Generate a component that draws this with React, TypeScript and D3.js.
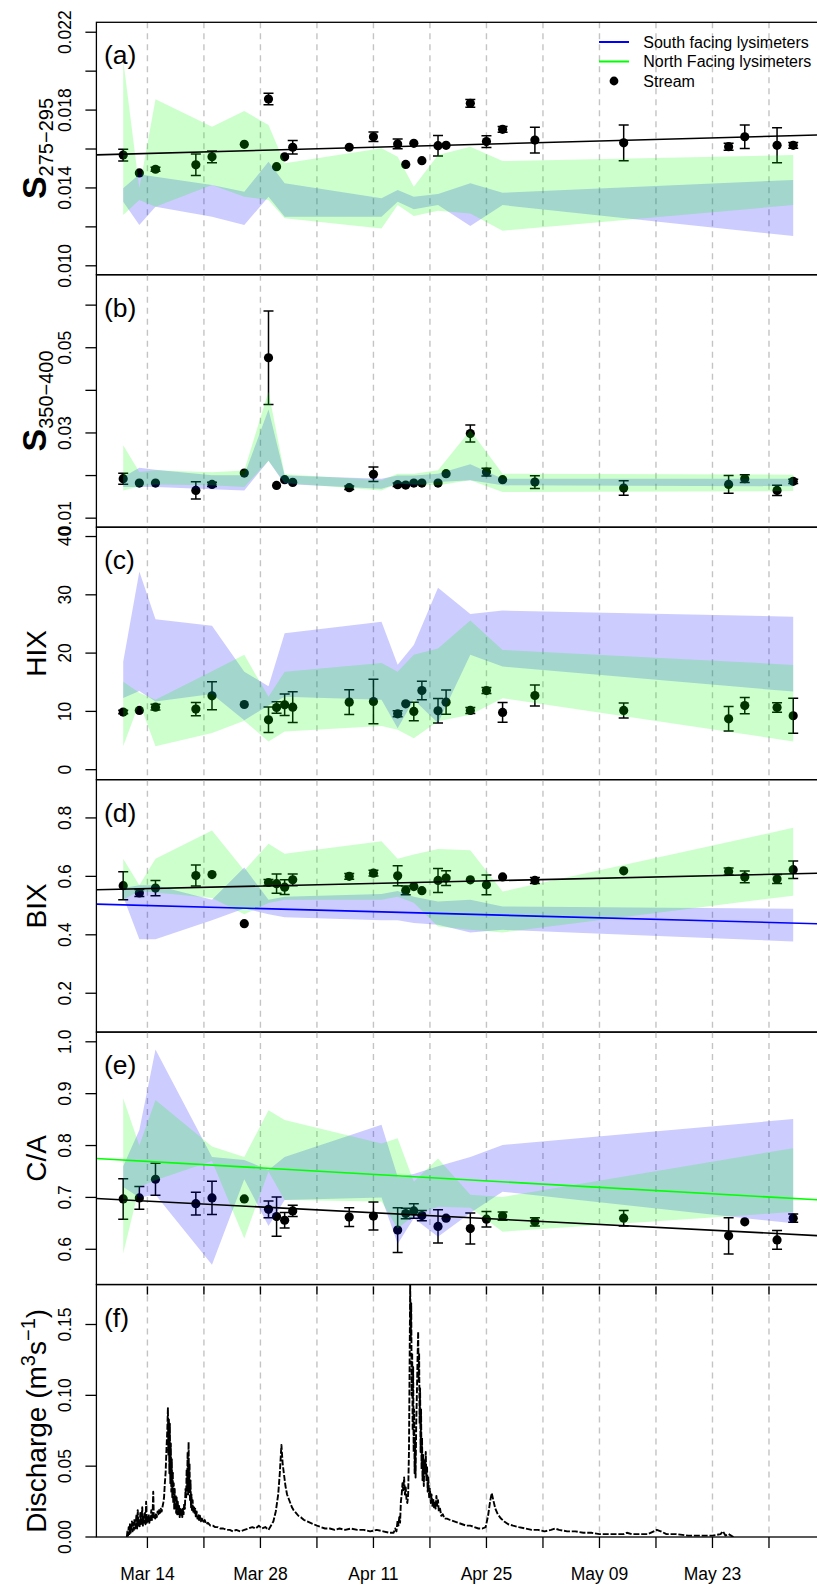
import React from "react";
import * as d3 from "d3";

// ---------- sampling dates ----------
const sampleDates = [
  "2013-03-11", "2013-03-13", "2013-03-15", "2013-03-20", "2013-03-22", "2013-03-26",
  "2013-03-29", "2013-03-30", "2013-03-31", "2013-04-01", "2013-04-08", "2013-04-11",
  "2013-04-14", "2013-04-15", "2013-04-16", "2013-04-17", "2013-04-19", "2013-04-20",
  "2013-04-23", "2013-04-25", "2013-04-27", "2013-05-01", "2013-05-12", "2013-05-25",
  "2013-05-27", "2013-05-31", "2013-06-02",
];
const lysimeterDates = [
  "2013-03-11", "2013-03-13", "2013-03-15", "2013-03-22", "2013-03-26", "2013-03-29",
  "2013-03-31", "2013-04-12", "2013-04-14", "2013-04-16", "2013-04-19", "2013-04-23",
  "2013-04-27", "2013-06-02",
];
const weekTicks = [
  "2013-03-14", "2013-03-21", "2013-03-28", "2013-04-04", "2013-04-11", "2013-04-18",
  "2013-04-25", "2013-05-02", "2013-05-09", "2013-05-16", "2013-05-23", "2013-05-30",
];
const weekLabels = ["Mar 14", "", "Mar 28", "", "Apr 11", "", "Apr 25", "", "May 09", "", "May 23", ""];
const trendOrigin = "2013-03-01";

// ---------- (a) S275-295 ----------
const aStream = [0.01569, 0.01477, 0.01496, 0.01519, 0.0156, 0.01624, 0.01857, 0.01509, 0.0156, 0.01609, 0.01609, 0.01663, 0.01626, 0.01521, 0.01629, 0.0154, 0.01617, 0.01619, 0.01835, 0.01638, 0.01701, 0.01646, 0.01632, 0.01612, 0.01663, 0.01619, 0.01619];
const aErr = [0.0003, 0, 0.0001, 0.00055, 0.0003, 0, 0.0003, 0, 0, 0.00035, 0, 0.00025, 0.00025, 0, 0, 0, 0.00053, 0, 0.0002, 0.0003, 0.00015, 0.00066, 0.00092, 0.00018, 0.0006, 0.0009, 0.00015];
const aSouthHi = [0.01398, 0.0147, 0.01458, 0.01415, 0.0138, 0.01535, 0.01424, 0.01347, 0.01389, 0.01355, 0.01369, 0.01424, 0.01375, 0.01441];
const aSouthLo = [0.01329, 0.01209, 0.01303, 0.01252, 0.01209, 0.01355, 0.01252, 0.01252, 0.01329, 0.0129, 0.01312, 0.01204, 0.01312, 0.01153];
const aNorthHi = [0.02058, 0.01398, 0.01856, 0.01715, 0.01795, 0.01723, 0.01527, 0.01604, 0.0156, 0.01406, 0.01569, 0.01612, 0.01538, 0.01569];
const aNorthLo = [0.01261, 0.01338, 0.01303, 0.01415, 0.01355, 0.01338, 0.01244, 0.01192, 0.01312, 0.01256, 0.01283, 0.01269, 0.0118, 0.01312];
const aTicks = [0.01, 0.012, 0.014, 0.016, 0.018, 0.02, 0.022];
const aTickLabels = ["0.010", "", "0.014", "", "0.018", "", "0.022"];
const aLimits = [0.00954, 0.02251];
const aStreamTrend = [0.015624, 0.0000114]; // intercept, slope per day

// ---------- (b) S350-400 ----------
const bStream = [0.01927, 0.01824, 0.01824, 0.01652, 0.01793, 0.02059, 0.04765, 0.01769, 0.01904, 0.0184, 0.01715, 0.02028, 0.01786, 0.01776, 0.01824, 0.01824, 0.01824, 0.02045, 0.02986, 0.02082, 0.01904, 0.01847, 0.01706, 0.01793, 0.01927, 0.01652, 0.01864];
const bErr = [0.0013, 0, 0, 0.002, 0.0005, 0, 0.011, 0, 0, 0, 0.0004, 0.0017, 0.0004, 0, 0, 0, 0, 0, 0.002, 0.0009, 0, 0.0015, 0.0017, 0.0021, 0.0009, 0.0012, 0.0005];
const bSouthHi = [0.01965, 0.02186, 0.02139, 0.0201, 0.02005, 0.0355, 0.02, 0.01927, 0.02, 0.02, 0.0204, 0.02264, 0.01927, 0.01927];
const bSouthLo = [0.0173, 0.0173, 0.0173, 0.0168, 0.0165, 0.0235, 0.018, 0.01692, 0.018, 0.0177, 0.01847, 0.01887, 0.0177, 0.0175];
const bNorthHi = [0.0271, 0.02082, 0.02122, 0.0208, 0.0212, 0.0397, 0.0203, 0.01887, 0.02045, 0.0204, 0.02122, 0.03064, 0.02045, 0.0202];
const bNorthLo = [0.0165, 0.01746, 0.01793, 0.0177, 0.0173, 0.0235, 0.01824, 0.0165, 0.01816, 0.0179, 0.0177, 0.01887, 0.01612, 0.01635];
const bTicks = [0.01, 0.02, 0.03, 0.04, 0.05, 0.06];
const bTickLabels = ["0.01", "", "0.03", "", "0.05", ""];
const bLimits = [0.00788, 0.06713];

// ---------- (c) HIX ----------
const cStream = [9.88, 10.16, 10.73, 10.39, 12.67, 11.18, 8.56, 10.67, 11.13, 10.73, 11.59, 11.7, 9.59, 11.3, 9.99, 13.58, 10.1, 11.59, 10.16, 13.58, 9.82, 12.73, 10.16, 8.73, 11.0, 10.67, 9.25];
const cErr = [0.3, 0, 0.5, 1.14, 2.4, 0, 2.2, 1.0, 1.85, 2.65, 2.14, 3.8, 0.5, 0, 1.6, 1.6, 2.1, 2.1, 0.5, 0.5, 1.7, 1.8, 1.3, 2.1, 1.4, 0.8, 3.0];
const cSouthHi = [18.5, 34.0, 25.8, 24.7, 16.8, 14.3, 23.4, 25.4, 18.0, 21.4, 31.2, 26.7, 27.3, 26.25];
const cSouthLo = [12.3, 13.5, 11.7, 13.0, 8.5, 11.0, 12.5, 12.0, 7.1, 12.0, 8.0, 19.7, 17.7, 13.4];
const cNorthHi = [15.1, 13.2, 12.0, 16.9, 19.7, 12.5, 16.8, 18.3, 16.8, 19.7, 20.8, 25.6, 20.55, 17.98];
const cNorthLo = [4.0, 11.5, 4.0, 6.3, 8.4, 4.85, 6.56, 7.5, 6.85, 5.4, 8.3, 9.42, 12.27, 4.85];
const cTicks = [0, 10, 20, 30, 40];
const cTickLabels = ["0", "10", "20", "30", "40"];
const cLimits = [-1.71, 41.6];

// ---------- (d) BIX ----------
const dStream = [0.568, 0.543, 0.56, 0.603, 0.606, 0.438, 0.579, 0.575, 0.563, 0.588, 0.6, 0.611, 0.602, 0.552, 0.565, 0.551, 0.586, 0.594, 0.588, 0.571, 0.598, 0.586, 0.619, 0.617, 0.598, 0.591, 0.623];
const dErr = [0.048, 0.012, 0.026, 0.036, 0, 0, 0.01, 0.033, 0.025, 0.02, 0.01, 0.01, 0.034, 0.015, 0, 0, 0.041, 0.025, 0, 0.034, 0, 0.01, 0, 0.012, 0.02, 0.015, 0.03];
const dSouthHi = [0.56, 0.57, 0.57, 0.52, 0.63, 0.52, 0.53, 0.54, 0.55, 0.53, 0.514, 0.52, 0.497, 0.489];
const dSouthLo = [0.53, 0.385, 0.385, 0.45, 0.49, 0.47, 0.46, 0.45, 0.45, 0.44, 0.434, 0.408, 0.417, 0.377];
const dNorthHi = [0.66, 0.57, 0.66, 0.757, 0.62, 0.712, 0.677, 0.72, 0.66, 0.675, 0.694, 0.689, 0.548, 0.766];
const dNorthLo = [0.52, 0.55, 0.545, 0.526, 0.47, 0.509, 0.52, 0.52, 0.53, 0.51, 0.428, 0.417, 0.408, 0.534];
const dTicks = [0.2, 0.4, 0.6, 0.8];
const dTickLabels = ["0.2", "0.4", "0.6", "0.8"];
const dLimits = [0.067, 0.931];
const dStreamTrend = [0.54975, 0.000636];
const dSouthTrend = [0.51002, -0.000752];

// ---------- (e) C/A ----------
const eStream = [0.697, 0.699, 0.735, 0.688, 0.699, 0.697, 0.677, 0.663, 0.656, 0.674, 0.662, 0.664, 0.637, 0.669, 0.674, 0.665, 0.644, 0.66, 0.64, 0.658, 0.664, 0.653, 0.66, 0.626, 0.653, 0.618, 0.66];
const eErr = [0.039, 0.022, 0.031, 0.022, 0.032, 0, 0.016, 0.038, 0.015, 0.011, 0.018, 0.027, 0.043, 0.01, 0.014, 0.01, 0.032, 0, 0.03, 0.015, 0.008, 0.008, 0.015, 0.035, 0, 0.018, 0.008];
const eSouthHi = [0.76, 0.83, 0.985, 0.778, 0.772, 0.753, 0.778, 0.84, 0.74, 0.745, 0.76, 0.778, 0.801, 0.851];
const eSouthLo = [0.72, 0.7, 0.705, 0.57, 0.735, 0.645, 0.695, 0.7, 0.61, 0.66, 0.624, 0.67, 0.711, 0.65];
const eNorthHi = [0.891, 0.8, 0.888, 0.798, 0.778, 0.868, 0.849, 0.804, 0.814, 0.73, 0.775, 0.705, 0.701, 0.795];
const eNorthLo = [0.592, 0.72, 0.733, 0.77, 0.621, 0.75, 0.695, 0.692, 0.64, 0.665, 0.682, 0.68, 0.634, 0.672];
const eTicks = [0.6, 0.7, 0.8, 0.9, 1.0];
const eTickLabels = ["0.6", "0.7", "0.8", "0.9", "1.0"];
const eLimits = [0.532, 1.0187];
const eStreamTrend = [0.70337, -0.000803];
const eNorthTrend = [0.78096, -0.000892];

// ---------- (f) discharge: [days since Mar 1, m3/s] ----------
const dischargeSeries: [number, number][] = [
  [10.45, 0.0], [10.52, 0.004], [10.6, 0.001], [10.68, 0.007], [10.76, 0.002], [10.84, 0.009], [10.92, 0.003],
  [11.0, 0.006], [11.08, 0.011], [11.16, 0.004], [11.24, 0.01], [11.32, 0.005], [11.4, 0.013], [11.48, 0.006],
  [11.56, 0.009], [11.64, 0.016], [11.72, 0.006], [11.8, 0.019], [11.88, 0.008], [11.96, 0.012], [12.04, 0.007],
  [12.12, 0.017], [12.2, 0.009], [12.28, 0.013], [12.36, 0.021], [12.44, 0.008], [12.52, 0.014], [12.6, 0.01],
  [12.68, 0.018], [12.76, 0.009], [12.84, 0.025], [12.92, 0.01], [13.0, 0.013], [13.08, 0.011], [13.16, 0.016],
  [13.24, 0.01], [13.32, 0.014], [13.4, 0.012], [13.48, 0.019], [13.56, 0.012], [13.64, 0.015], [13.72, 0.032],
  [13.8, 0.013], [13.88, 0.015], [13.96, 0.013], [14.06, 0.016], [14.16, 0.014], [14.26, 0.018], [14.36, 0.016],
  [14.46, 0.019], [14.56, 0.017], [14.66, 0.02], [14.76, 0.018], [14.86, 0.021], [14.96, 0.024], [15.06, 0.028],
  [15.16, 0.038], [15.26, 0.046], [15.36, 0.062], [15.46, 0.075], [15.54, 0.091], [15.6, 0.058], [15.66, 0.083],
  [15.72, 0.045], [15.78, 0.08], [15.84, 0.038], [15.9, 0.066], [15.96, 0.032], [16.02, 0.055], [16.08, 0.028],
  [16.14, 0.046], [16.2, 0.024], [16.26, 0.038], [16.32, 0.02], [16.38, 0.034], [16.44, 0.019], [16.5, 0.03],
  [16.56, 0.017], [16.62, 0.028], [16.68, 0.016], [16.76, 0.025], [16.84, 0.015], [16.92, 0.022], [17.0, 0.014],
  [17.08, 0.021], [17.16, 0.015], [17.24, 0.019], [17.32, 0.014], [17.4, 0.02], [17.48, 0.016], [17.56, 0.024],
  [17.64, 0.02], [17.72, 0.034], [17.8, 0.028], [17.86, 0.048], [17.92, 0.035], [17.98, 0.06], [18.04, 0.03],
  [18.1, 0.067], [18.16, 0.032], [18.22, 0.052], [18.28, 0.025], [18.34, 0.04], [18.4, 0.021], [18.46, 0.03],
  [18.52, 0.018], [18.6, 0.026], [18.68, 0.017], [18.76, 0.022], [18.84, 0.016], [18.92, 0.02], [19.0, 0.014],
  [19.1, 0.018], [19.2, 0.013], [19.3, 0.016], [19.4, 0.012], [19.5, 0.015], [19.6, 0.011], [19.75, 0.013],
  [19.9, 0.01], [20.1, 0.012], [20.3, 0.009], [20.5, 0.01], [20.8, 0.008], [21.1, 0.008], [21.4, 0.007],
  [21.7, 0.007], [22.0, 0.006], [22.4, 0.006], [22.8, 0.005], [23.2, 0.005], [23.6, 0.004], [24.0, 0.005],
  [24.5, 0.004], [25.0, 0.005], [25.5, 0.006], [26.0, 0.007], [26.4, 0.006], [26.8, 0.008], [27.2, 0.006],
  [27.6, 0.007], [28.0, 0.005], [28.3, 0.008], [28.6, 0.011], [28.9, 0.018], [29.2, 0.03], [29.4, 0.045],
  [29.6, 0.065], [29.75, 0.052], [29.9, 0.045], [30.1, 0.036], [30.3, 0.03], [30.5, 0.027], [30.7, 0.024],
  [30.9, 0.021], [31.1, 0.019], [31.4, 0.017], [31.7, 0.015], [32.0, 0.014], [32.4, 0.012], [32.8, 0.011],
  [33.2, 0.01], [33.6, 0.009], [34.0, 0.008], [34.5, 0.007], [35.0, 0.006], [35.6, 0.006], [36.2, 0.005],
  [36.8, 0.006], [37.5, 0.005], [38.2, 0.006], [39.0, 0.005], [39.8, 0.005], [40.6, 0.004], [41.4, 0.005],
  [42.2, 0.004], [43.0, 0.003], [43.5, 0.003], [43.7, 0.006], [43.85, 0.004], [44.0, 0.012], [44.1, 0.008],
  [44.2, 0.014], [44.3, 0.01], [44.4, 0.025], [44.5, 0.03], [44.6, 0.038], [44.7, 0.033], [44.8, 0.042],
  [44.9, 0.03], [45.0, 0.035], [45.1, 0.026], [45.2, 0.024], [45.3, 0.03], [45.4, 0.06], [45.48, 0.12],
  [45.55, 0.178], [45.62, 0.14], [45.68, 0.165], [45.74, 0.1], [45.8, 0.13], [45.86, 0.075], [45.92, 0.12],
  [45.98, 0.06], [46.04, 0.09], [46.1, 0.045], [46.16, 0.07], [46.22, 0.042], [46.3, 0.08], [46.38, 0.1],
  [46.46, 0.125], [46.54, 0.145], [46.6, 0.11], [46.66, 0.13], [46.72, 0.08], [46.78, 0.105], [46.84, 0.06],
  [46.9, 0.09], [46.96, 0.048], [47.02, 0.07], [47.08, 0.04], [47.16, 0.058], [47.24, 0.036], [47.32, 0.055],
  [47.4, 0.045], [47.48, 0.06], [47.56, 0.04], [47.64, 0.05], [47.72, 0.032], [47.8, 0.042], [47.9, 0.028],
  [48.0, 0.034], [48.1, 0.024], [48.2, 0.03], [48.3, 0.022], [48.4, 0.027], [48.5, 0.021], [48.6, 0.025],
  [48.7, 0.02], [48.8, 0.029], [48.9, 0.022], [49.0, 0.026], [49.1, 0.018], [49.25, 0.02], [49.4, 0.015],
  [49.6, 0.016], [49.8, 0.013], [50.1, 0.013], [50.5, 0.012], [51.0, 0.011], [51.5, 0.01], [52.0, 0.009],
  [52.5, 0.008], [53.0, 0.008], [53.5, 0.007], [54.0, 0.006], [54.5, 0.006], [54.9, 0.007], [55.2, 0.015],
  [55.45, 0.025], [55.65, 0.031], [55.85, 0.026], [56.1, 0.02], [56.4, 0.016], [56.8, 0.013], [57.2, 0.011],
  [57.7, 0.009], [58.3, 0.008], [59.0, 0.007], [59.8, 0.006], [60.6, 0.005], [61.4, 0.005], [62.2, 0.004],
  [63.0, 0.005], [63.5, 0.006], [64.0, 0.005], [65.0, 0.004], [66.0, 0.004], [67.0, 0.003], [68.0, 0.003],
  [69.0, 0.002], [70.0, 0.002], [71.0, 0.002], [72.0, 0.002], [72.4, 0.003], [73.0, 0.002], [74.0, 0.002],
  [75.0, 0.002], [76.1, 0.005], [76.6, 0.004], [77.3, 0.002], [78.5, 0.002], [80.0, 0.001], [81.5, 0.001],
  [83.0, 0.001], [84.0, 0.002], [84.3, 0.004], [84.6, 0.001], [85.0, 0.002], [85.6, 0.0],
];
const fTicks = [0, 0.05, 0.1, 0.15];
const fTickLabels = ["0.00", "0.05", "0.10", "0.15"];
const fLimits = [0, 0.1782];

// ---------- layout ----------
const W = 817;
const H = 1589;
const LEFT = 96.4;
const RIGHT = 820;
const TOP0 = 22.3;
const PH = 252.45;
const FONT = "'Liberation Sans', Arial, Helvetica, sans-serif";
const DAY = 86400000;

const toDate = d3.utcParse("%Y-%m-%d");
const sDates = sampleDates.map((d) => toDate(d) as Date);
const lDates = lysimeterDates.map((d) => toDate(d) as Date);
const gDates = weekTicks.map((d) => toDate(d) as Date);
const origin = toDate(trendOrigin) as Date;
const [first, last] = d3.extent(sDates) as [Date, Date];
const pad = (+last - +first) * 0.04;
const x = d3
  .scaleUtc()
  .domain([new Date(+first - pad), new Date(+last + pad)])
  .range([LEFT, RIGHT]);
const dayOf = (d: Date) => (+d - +origin) / DAY;

type PanelSpec = {
  letter: string;
  limits: number[];
  ticks: number[];
  tickLabels: string[];
  stream: number[];
  err: number[];
  southHi: number[];
  southLo: number[];
  northHi: number[];
  northLo: number[];
  trends: { coef: number[]; color: string }[];
  title: React.ReactNode;
};

const sTitle = (sub: string) => (
  <>
    <tspan fontWeight="bold" fontSize={34}>S</tspan>
    <tspan fontSize={20} dy={7}>{sub}</tspan>
  </>
);

const panels: PanelSpec[] = [
  { letter: "(a)", limits: aLimits, ticks: aTicks, tickLabels: aTickLabels, stream: aStream, err: aErr,
    southHi: aSouthHi, southLo: aSouthLo, northHi: aNorthHi, northLo: aNorthLo,
    trends: [{ coef: aStreamTrend, color: "#000000" }], title: sTitle("275\u2212295") },
  { letter: "(b)", limits: bLimits, ticks: bTicks, tickLabels: bTickLabels, stream: bStream, err: bErr,
    southHi: bSouthHi, southLo: bSouthLo, northHi: bNorthHi, northLo: bNorthLo,
    trends: [], title: sTitle("350\u2212400") },
  { letter: "(c)", limits: cLimits, ticks: cTicks, tickLabels: cTickLabels, stream: cStream, err: cErr,
    southHi: cSouthHi, southLo: cSouthLo, northHi: cNorthHi, northLo: cNorthLo,
    trends: [], title: "HIX" },
  { letter: "(d)", limits: dLimits, ticks: dTicks, tickLabels: dTickLabels, stream: dStream, err: dErr,
    southHi: dSouthHi, southLo: dSouthLo, northHi: dNorthHi, northLo: dNorthLo,
    trends: [{ coef: dStreamTrend, color: "#000000" }, { coef: dSouthTrend, color: "#0000ff" }], title: "BIX" },
  { letter: "(e)", limits: eLimits, ticks: eTicks, tickLabels: eTickLabels, stream: eStream, err: eErr,
    southHi: eSouthHi, southLo: eSouthLo, northHi: eNorthHi, northLo: eNorthLo,
    trends: [{ coef: eStreamTrend, color: "#000000" }, { coef: eNorthTrend, color: "#00ff00" }], title: "C/A" },
];

function Grid({ top, bottom }: { top: number; bottom: number }) {
  return (
    <g>
      {gDates.map((d, k) => (
        <line key={k} x1={x(d)} x2={x(d)} y1={top} y2={bottom} stroke="#c4c4c4" strokeWidth={1.4} strokeDasharray="6,5" />
      ))}
    </g>
  );
}

function YAxis({ y, ticks, labels }: { y: d3.ScaleLinear<number, number>; ticks: number[]; labels: string[] }) {
  return (
    <g>
      {ticks.map((t, k) => (
        <g key={k}>
          <line x1={LEFT - 11} x2={LEFT} y1={y(t)} y2={y(t)} stroke="#000" strokeWidth={1.3} />
          {labels[k] && (
            <text transform={`translate(70.5, ${y(t)}) rotate(-90)`} textAnchor="middle" fontSize={17.5} fontFamily={FONT}>
              {labels[k]}
            </text>
          )}
        </g>
      ))}
    </g>
  );
}

function Panel({ p, i }: { p: PanelSpec; i: number }) {
  const top = TOP0 + i * PH;
  const bottom = top + PH;
  const y = d3.scaleLinear().domain(p.limits).range([bottom, top]);
  const band = (hi: number[], lo: number[]) =>
    d3
      .area<number>()
      .x((k) => x(lDates[k]))
      .y0((k) => y(lo[k]))
      .y1((k) => y(hi[k]))(d3.range(lDates.length)) as string;
  const clip = `clip-${i}`;
  const [d0, d1] = x.domain();
  return (
    <g>
      <defs>
        <clipPath id={clip}>
          <rect x={LEFT} y={top} width={RIGHT - LEFT} height={PH} />
        </clipPath>
      </defs>
      <Grid top={top} bottom={bottom} />
      <g clipPath={`url(#${clip})`}>
        {p.stream.map((v, k) => {
          const cx = x(sDates[k]);
          const e = p.err[k];
          return (
            <g key={k}>
              {e > 0 && (
                <g stroke="#000" strokeWidth={1.5}>
                  <line x1={cx} x2={cx} y1={y(v - e)} y2={y(v + e)} />
                  <line x1={cx - 5} x2={cx + 5} y1={y(v - e)} y2={y(v - e)} />
                  <line x1={cx - 5} x2={cx + 5} y1={y(v + e)} y2={y(v + e)} />
                </g>
              )}
              <circle cx={cx} cy={y(v)} r={4.6} fill="#000" />
            </g>
          );
        })}
        <path d={band(p.southHi, p.southLo)} fill="rgba(0,0,255,0.2)" />
        <path d={band(p.northHi, p.northLo)} fill="rgba(0,255,0,0.2)" />
        {p.trends.map((t, k) => (
          <line
            key={k}
            x1={x(d0)}
            x2={x(d1)}
            y1={y(t.coef[0] + t.coef[1] * dayOf(d0))}
            y2={y(t.coef[0] + t.coef[1] * dayOf(d1))}
            stroke={t.color}
            strokeWidth={1.6}
          />
        ))}
      </g>
      <rect x={LEFT} y={top} width={RIGHT - LEFT} height={PH} fill="none" stroke="#000" strokeWidth={1.3} />
      <YAxis y={y} ticks={p.ticks} labels={p.tickLabels} />
      <text x={104} y={top + 42} fontSize={26.5} fontFamily={FONT}>{p.letter}</text>
      <text transform={`translate(46, ${top + PH / 2}) rotate(-90)`} textAnchor="middle" fontSize={28} fontFamily={FONT}>
        {p.title}
      </text>
    </g>
  );
}

function Legend() {
  const top = TOP0;
  const items = [
    { label: "South facing lysimeters", kind: "line", color: "#0000ff" },
    { label: "North Facing lysimeters", kind: "line", color: "#00ff00" },
    { label: "Stream", kind: "dot", color: "#000000" },
  ];
  return (
    <g fontFamily={FONT} fontSize={16}>
      {items.map((it, k) => {
        const cy = top + 19.7 + k * 19.5;
        return (
          <g key={k}>
            {it.kind === "line" ? (
              <line x1={599} x2={629} y1={cy} y2={cy} stroke={it.color} strokeWidth={2} />
            ) : (
              <circle cx={614} cy={cy} r={4.4} fill={it.color} />
            )}
            <text x={643.3} y={cy + 5.7}>{it.label}</text>
          </g>
        );
      })}
    </g>
  );
}

function DischargePanel() {
  const i = 5;
  const top = TOP0 + i * PH;
  const bottom = top + PH;
  const y = d3.scaleLinear().domain(fLimits).range([bottom, top]);
  const path = d3
    .line<[number, number]>()
    .x((d) => x(new Date(+origin + d[0] * DAY)))
    .y((d) => y(d[1]))(dischargeSeries) as string;
  return (
    <g>
      <defs>
        <clipPath id="clip-f">
          <rect x={LEFT} y={top} width={RIGHT - LEFT} height={PH} />
        </clipPath>
      </defs>
      <Grid top={top} bottom={bottom} />
      {gDates.map((d, k) => (
        <line key={k} x1={x(d)} x2={x(d)} y1={top + 2} y2={top + 10} stroke="#000" strokeWidth={1.4} />
      ))}
      <g clipPath="url(#clip-f)">
        <path d={path} fill="none" stroke="#000" strokeWidth={1.9} strokeDasharray="6,1.8" strokeLinejoin="round" />
      </g>
      <rect x={LEFT} y={top} width={RIGHT - LEFT} height={PH} fill="none" stroke="#000" strokeWidth={1.3} />
      <YAxis y={y} ticks={fTicks} labels={fTickLabels} />
      {gDates.map((d, k) => (
        <g key={k}>
          <line x1={x(d)} x2={x(d)} y1={bottom} y2={bottom + 11} stroke="#000" strokeWidth={1.3} />
          {weekLabels[k] && (
            <text x={x(d)} y={bottom + 42.5} textAnchor="middle" fontSize={17.5} fontFamily={FONT}>
              {weekLabels[k]}
            </text>
          )}
        </g>
      ))}
      <text x={104} y={top + 42} fontSize={26.5} fontFamily={FONT}>(f)</text>
      <text transform={`translate(46, ${top + PH / 2 + 10}) rotate(-90)`} textAnchor="middle" fontSize={28} fontFamily={FONT}>
        Discharge (m<tspan fontSize={20} dy={-11}>3</tspan>
        <tspan dy={11}>s</tspan>
        <tspan fontSize={20} dy={-11}>{"\u22121"}</tspan>
        <tspan dy={11}>)</tspan>
      </text>
    </g>
  );
}

export default function App() {
  return (
    <div style={{ position: "absolute", left: 0, top: 0 }}>
      <svg width={W} height={H} viewBox={`0 0 ${W} ${H}`} style={{ display: "block", background: "#fff" }}>
        <rect x={0} y={0} width={W} height={H} fill="#fff" />
        {panels.map((p, i) => (
          <Panel key={i} p={p} i={i} />
        ))}
        <DischargePanel />
        <Legend />
      </svg>
    </div>
  );
}
